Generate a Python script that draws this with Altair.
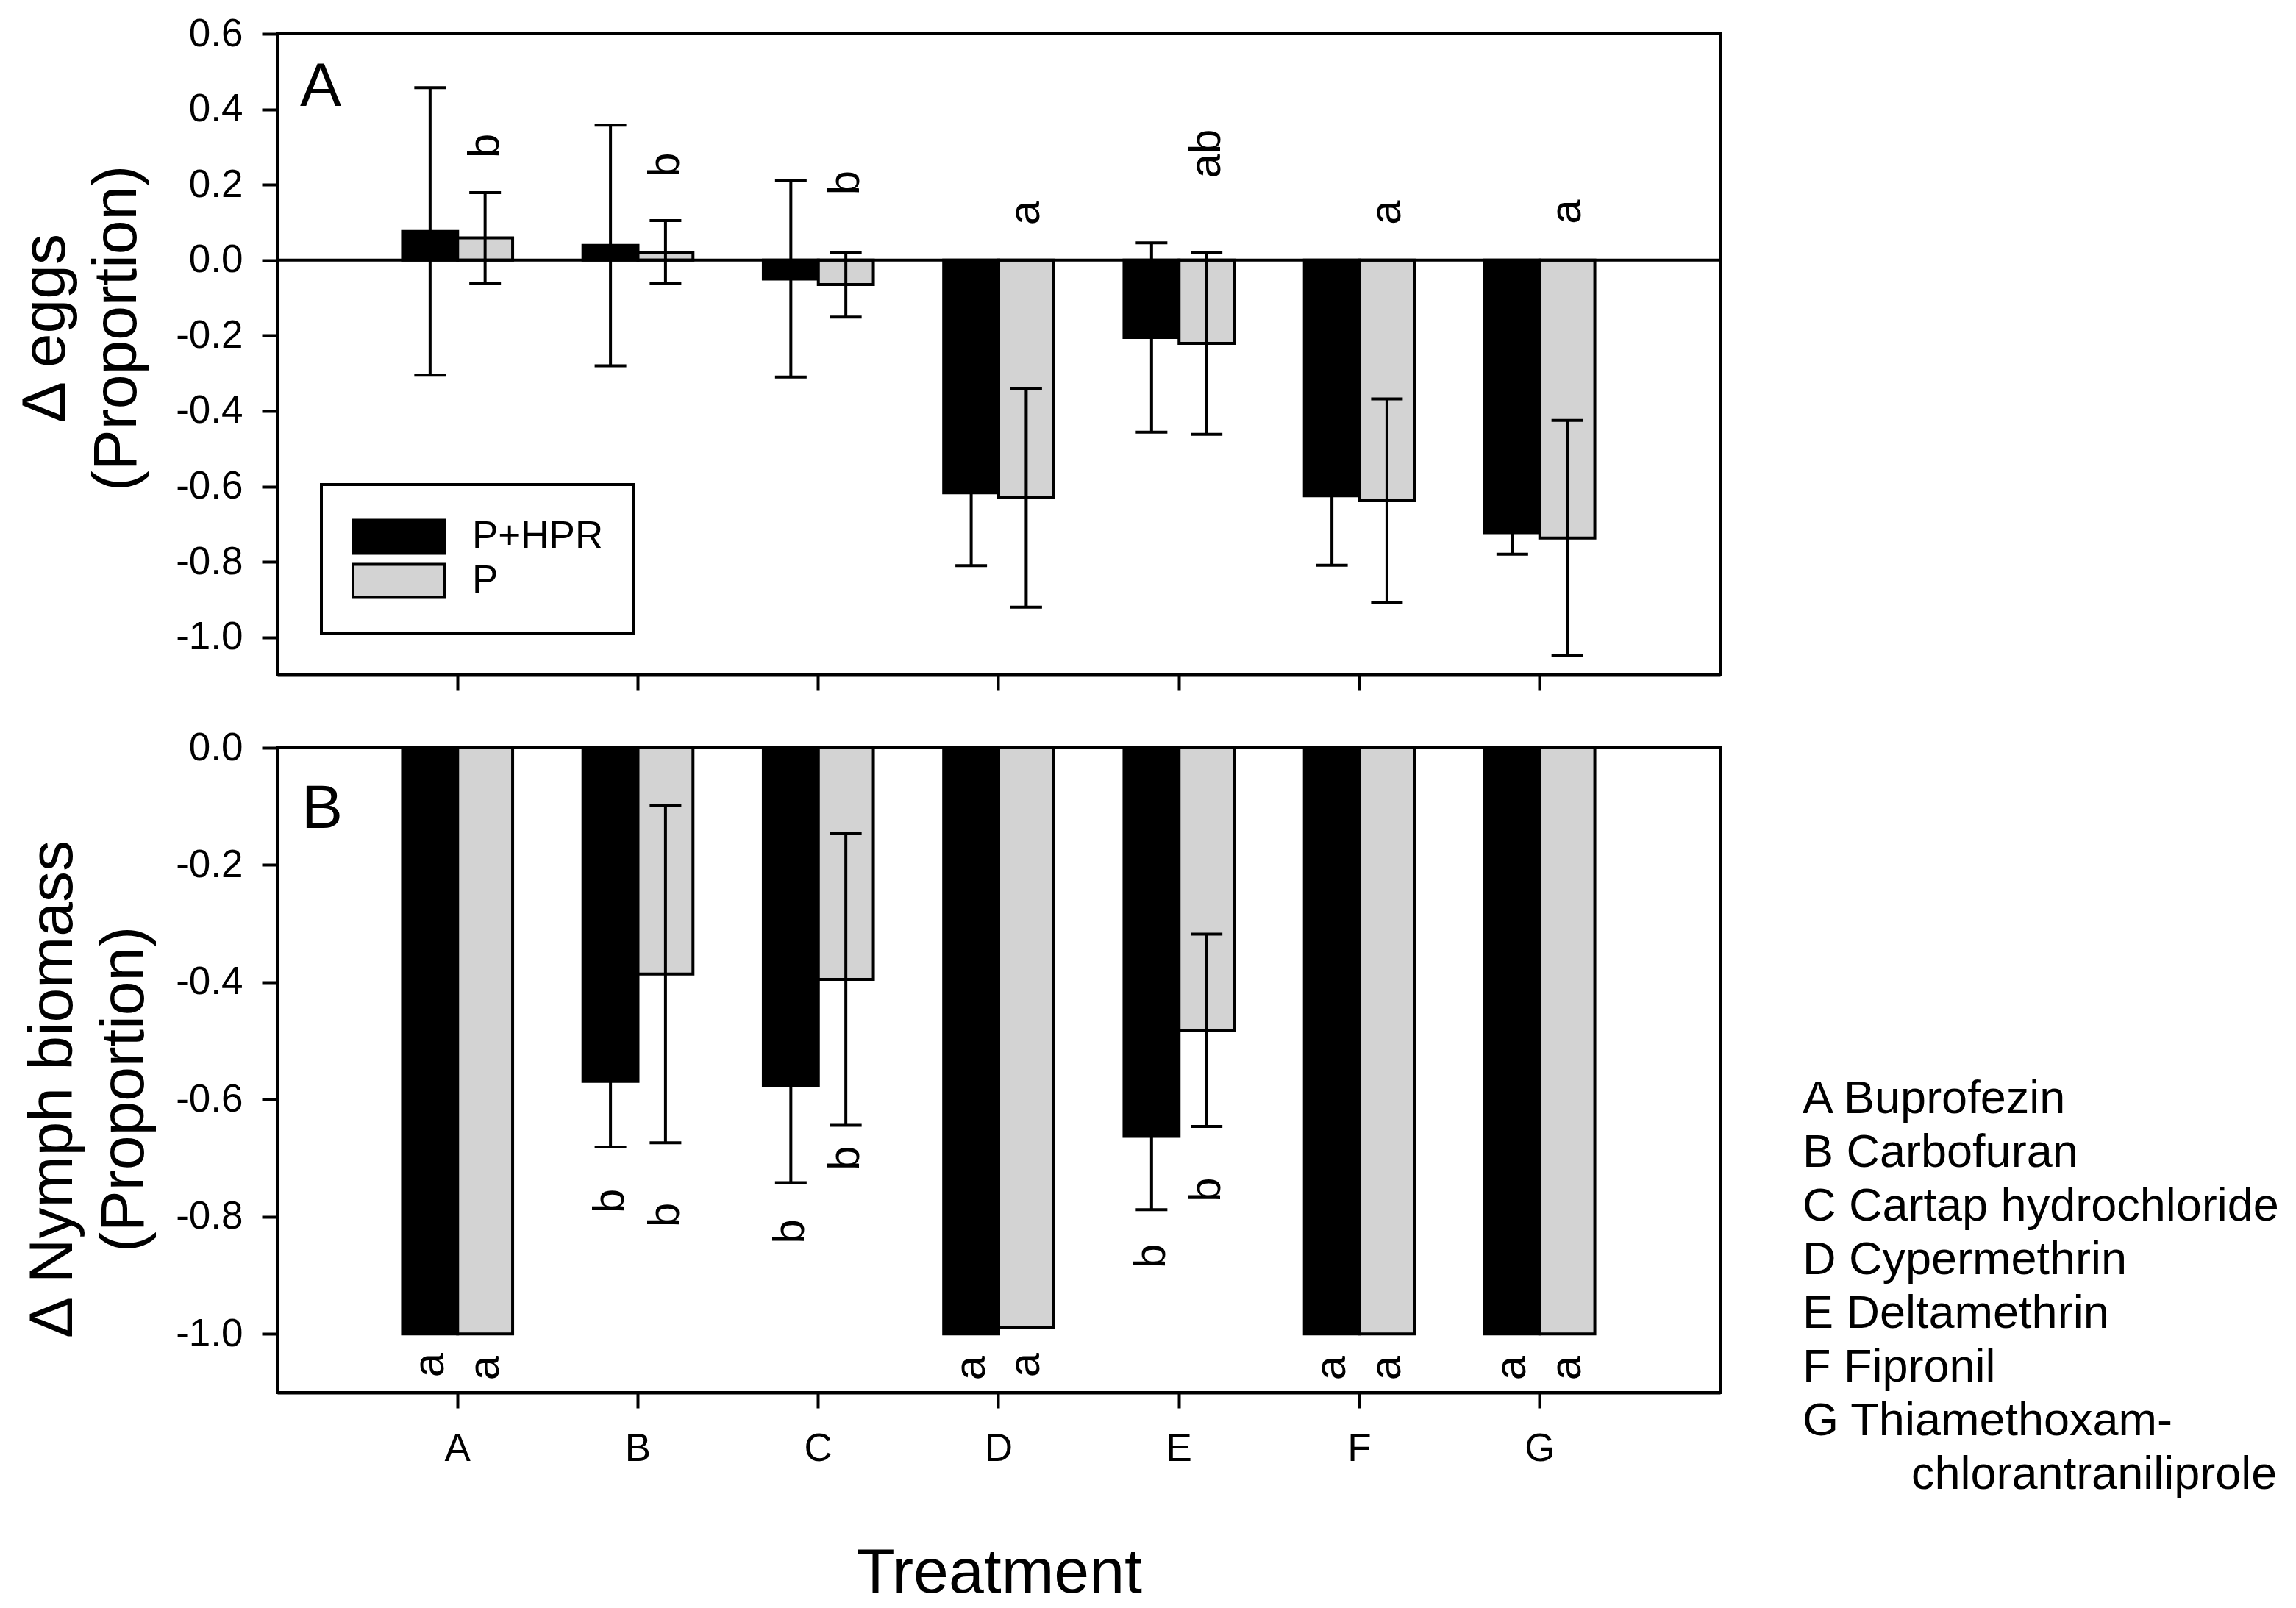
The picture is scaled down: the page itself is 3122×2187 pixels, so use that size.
import altair as alt
import pandas as pd

# ---------------- data ----------------
treatments = ["A", "B", "C", "D", "E", "F", "G"]
treatment_names = ["Buprofezin", "Carbofuran", "Cartap hydrochloride", "Cypermethrin",
                   "Deltamethrin", "Fipronil", "Thiamethoxam-"]
treatment_name_cont = "chlorantraniliprole"
groups = ["P+HPR", "P"]
group_colors = ["#000000", "#d3d3d3"]

# Panel A: change in eggs (proportion), mean and SE
eggs_php = [0.076, 0.039, -0.050, -0.617, -0.205, -0.625, -0.723]
eggs_php_se = [0.381, 0.319, 0.260, 0.193, 0.251, 0.184, 0.057]
eggs_p = [0.059, 0.021, -0.065, -0.630, -0.221, -0.638, -0.737]
eggs_p_se = [0.120, 0.084, 0.086, 0.290, 0.241, 0.270, 0.312]
eggs_letters_p = ["b", "b", "b", "a", "ab", "a", "a"]
eggs_letters_p_y = [0.303, 0.253, 0.205, 0.125, 0.282, 0.126, 0.128]

# Panel B: change in nymph biomass (proportion), mean and SE
nymph_php = [-1.0, -0.569, -0.577, -1.0, -0.663, -1.0, -1.0]
nymph_php_se = [0.0, 0.112, 0.165, 0.0, 0.125, 0.0, 0.0]
nymph_p = [-1.0, -0.386, -0.395, -0.989, -0.482, -1.0, -1.0]
nymph_p_se = [0.0, 0.288, 0.249, 0.0, 0.164, 0.0, 0.0]
nymph_letters_php = ["a", "b", "b", "a", "b", "a", "a"]
nymph_letters_php_y = [-1.053, -0.773, -0.825, -1.058, -0.867, -1.058, -1.058]
nymph_letters_p = ["a", "b", "b", "a", "b", "a", "a"]
nymph_letters_p_y = [-1.058, -0.797, -0.700, -1.053, -0.754, -1.058, -1.058]

eggs_ticks = [-1.0, -0.8, -0.6, -0.4, -0.2, 0.0, 0.2, 0.4, 0.6]
nymph_ticks = [-1.0, -0.8, -0.6, -0.4, -0.2, 0.0]

# ---------------- tables ----------------
rows = []
for i, t in enumerate(treatments):
    rows.append({"treatment": t, "group": groups[0], "eggs": eggs_php[i], "eggs_se": eggs_php_se[i],
                 "nymph": nymph_php[i], "nymph_se": nymph_php_se[i]})
    rows.append({"treatment": t, "group": groups[1], "eggs": eggs_p[i], "eggs_se": eggs_p_se[i],
                 "nymph": nymph_p[i], "nymph_se": nymph_p_se[i]})
df = pd.DataFrame(rows)

df_let_e = pd.DataFrame({"treatment": treatments, "group": [groups[1]] * 7,
                         "letter": eggs_letters_p, "ly": eggs_letters_p_y})
df_let_n = pd.DataFrame({
    "treatment": treatments + treatments,
    "group": [groups[0]] * 7 + [groups[1]] * 7,
    "letter": nymph_letters_php + nymph_letters_p,
    "ly": nymph_letters_php_y + nymph_letters_p_y,
})

FONT = "Liberation Sans"
W, H_TOP, H_BOT = 1962, 872, 877

x_scale = alt.Scale(domain=treatments, paddingInner=0.39, paddingOuter=0.695)
xoff_scale = alt.Scale(domain=groups, paddingInner=0, paddingOuter=0)
color_scale = alt.Scale(domain=groups, range=group_colors)

label_expr = "(datum.value < 0 ? '-' : '') + format(abs(datum.value), '.1f')"


def panel(field, ticks, domain, ytitle, title_x, title_y, show_x_labels, legend, letters_df, panel_label,
          label_x, label_y):
    if show_x_labels:
        x_axis = alt.Axis(labelFontSize=53, labelPadding=29, labelAngle=0, title="Treatment",
                          titleFontSize=86, titlePadding=100, bandPosition=0.5)
    else:
        x_axis = alt.Axis(labels=False, title=None, bandPosition=0.5)
    y_axis = alt.Axis(values=ticks, labelExpr=label_expr, labelFontSize=53, labelPadding=26,
                      title=ytitle, titleFontSize=84, titleLineHeight=97, titleAngle=270,
                      titleAlign="center", titleBaseline="alphabetic", titleX=title_x, titleY=title_y)
    x = alt.X("treatment:N", scale=x_scale, axis=x_axis, sort=treatments)
    xo = alt.XOffset("group:N", scale=xoff_scale, sort=groups)
    yscale = alt.Scale(domain=domain, nice=False, zero=False)

    base = alt.Chart(df)
    bars = base.mark_bar(stroke="black", strokeWidth=4).encode(
        x=x, xOffset=xo,
        y=alt.Y(f"{field}:Q", scale=yscale, axis=y_axis),
        color=alt.Color("group:N", scale=color_scale, sort=groups, legend=legend),
    )
    eb = base.transform_filter(f"datum.{field}_se > 0").transform_calculate(
        lo=f"datum.{field} - datum.{field}_se", hi=f"datum.{field} + datum.{field}_se")
    err = eb.mark_rule(color="black", strokeWidth=4).encode(
        x=alt.X("treatment:N"), xOffset=alt.XOffset("group:N"), y="lo:Q", y2="hi:Q")
    cap_lo = eb.mark_tick(color="black", thickness=4, size=43, orient="horizontal", opacity=1).encode(
        x=alt.X("treatment:N"), xOffset=alt.XOffset("group:N"), y="lo:Q")
    cap_hi = eb.mark_tick(color="black", thickness=4, size=43, orient="horizontal", opacity=1).encode(
        x=alt.X("treatment:N"), xOffset=alt.XOffset("group:N"), y="hi:Q")
    letters = alt.Chart(letters_df).mark_text(angle=270, fontSize=60, align="center", baseline="middle",
                                              color="black").encode(
        x=alt.X("treatment:N"), xOffset=alt.XOffset("group:N"), y="ly:Q", text="letter:N")
    plabel = alt.Chart(pd.DataFrame({"t": [panel_label]})).mark_text(
        align="left", baseline="alphabetic", fontSize=84, color="black").encode(
        x=alt.value(label_x), y=alt.value(label_y), text="t:N")
    layers = [bars]
    if field == "eggs":
        zero = alt.Chart(pd.DataFrame({"z": [0.0]})).mark_rule(color="black", strokeWidth=4).encode(y="z:Q")
        layers.append(zero)
    layers += [err, cap_lo, cap_hi, letters, plabel]
    return layers


legend_top = alt.Legend(
    title=None, orient="none", legendX=60, legendY=613, padding=41, strokeColor="black",
    symbolType="M-1,-0.36L1,-0.36L1,0.36L-1,0.36Z", symbolSize=15625,
    symbolStrokeColor="black", symbolStrokeWidth=4, symbolOpacity=1, clipHeight=60,
    labelOffset=35, labelFontSize=53, labelFont=FONT, labelColor="black", labelLimit=600, rowPadding=0,
)

top_layers = panel("eggs", eggs_ticks, [-1.1, 0.6], ["\u0394 eggs", "(Proportion)"],
                   -290, 400, False, legend_top, df_let_e, "A", 31, 98)
top = alt.layer(*top_layers).properties(width=W, height=H_TOP)

KEY_X, KEY_Y, KEY_LH, KEY_INDENT = 2074, 497, 73, 148
key_lines = [f"{t} {n}" for t, n in zip(treatments, treatment_names)]
key_df = pd.DataFrame({"k": [0]})
key = alt.Chart(key_df).mark_text(
    align="left", baseline="alphabetic", fontSize=63, lineHeight=KEY_LH, text=key_lines, color="black"
).encode(x=alt.value(KEY_X), y=alt.value(KEY_Y))
key_cont = alt.Chart(key_df).mark_text(
    align="left", baseline="alphabetic", fontSize=63, text=treatment_name_cont, color="black"
).encode(x=alt.value(KEY_X + KEY_INDENT), y=alt.value(KEY_Y + KEY_LH * len(key_lines)))

bot_layers = panel("nymph", nymph_ticks, [-1.1, 0.0], ["\u0394 Nymph biomass", "(Proportion)"],
                   -280, 464, True, None, df_let_n, "B", 33, 109)
bottom = alt.layer(*bot_layers, key, key_cont).properties(width=W, height=H_BOT)

chart = alt.vconcat(top, bottom, spacing=99, bounds="flush").resolve_scale(
    x="independent", y="independent"
).resolve_legend(color="independent").properties(
    padding={"left": 10, "top": 10, "right": 5, "bottom": 5}
).configure(font=FONT).configure_view(
    stroke="black", strokeWidth=4
).configure_axis(
    domainColor="black", domainWidth=4, tickColor="black", tickWidth=4, tickSize=21,
    labelColor="black", titleColor="black", grid=False, labelFont=FONT, titleFont=FONT,
    titleFontWeight="normal"
).configure_legend(strokeWidth=4)

chart.save("out.html", embed_options={"renderer": "svg", "actions": False})
